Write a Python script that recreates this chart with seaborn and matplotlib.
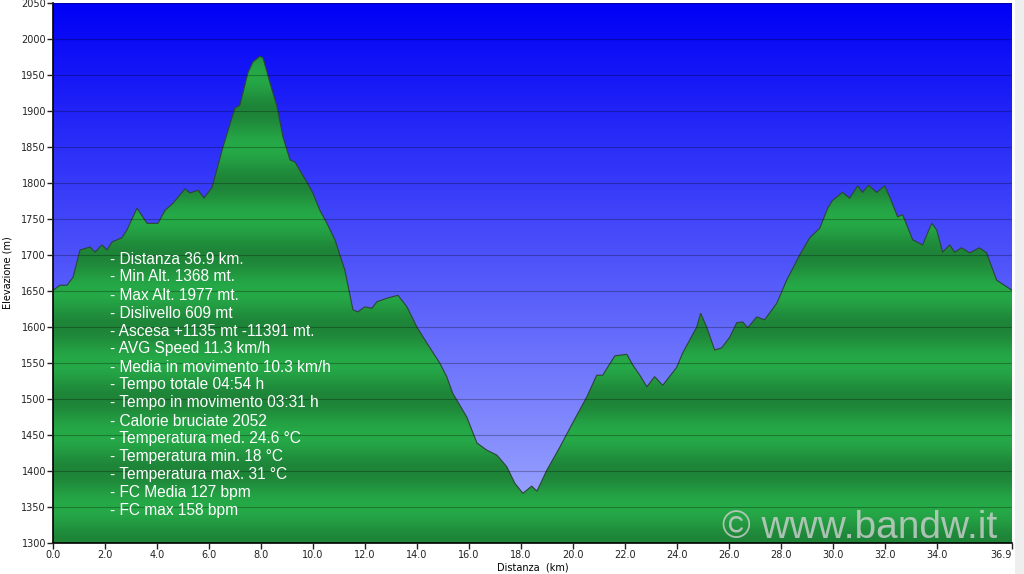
import numpy as np
import seaborn as sns
import matplotlib.pyplot as plt
from matplotlib.patches import Rectangle

# elevation profile
distance_km = [0.00, 0.27, 0.54, 0.77, 1.04, 1.42, 1.62, 1.88, 2.08, 2.27, 2.65, 2.85,
               3.23, 3.62, 4.04, 4.31, 4.62, 5.08, 5.27, 5.58, 5.81, 6.12, 6.54, 7.00,
               7.19, 7.50, 7.69, 7.96, 8.08, 8.35, 8.62, 8.85, 9.12, 9.31, 9.77, 10.00,
               10.27, 10.54, 10.85, 11.23, 11.54, 11.73, 12.00, 12.27, 12.46, 12.85, 13.27,
               13.62, 14.00, 14.38, 14.88, 15.15, 15.38, 15.92, 16.31, 16.69, 17.08, 17.46,
               17.77, 18.08, 18.42, 18.62, 19.00, 19.50, 20.00, 20.54, 20.92, 21.15, 21.62,
               22.08, 22.31, 22.58, 22.85, 23.15, 23.46, 24.00, 24.23, 24.50, 24.77, 24.92,
               25.15, 25.46, 25.73, 26.04, 26.31, 26.54, 26.73, 27.08, 27.38, 27.85, 28.23,
               28.73, 29.12, 29.50, 29.81, 30.00, 30.38, 30.65, 30.96, 31.15, 31.38, 31.69,
               32.00, 32.19, 32.50, 32.69, 33.08, 33.46, 33.81, 34.00, 34.23, 34.50, 34.69,
               34.96, 35.27, 35.65, 35.92, 36.31, 36.69, 36.90]
elevation_m = [1651, 1658, 1658, 1669, 1707, 1711, 1704, 1714, 1707, 1718, 1724, 1735,
               1765, 1744, 1744, 1762, 1772, 1792, 1786, 1790, 1779, 1794, 1850, 1904,
               1908, 1953, 1968, 1976, 1974, 1939, 1906, 1864, 1832, 1829, 1801, 1786,
               1762, 1744, 1721, 1679, 1624, 1621, 1628, 1626, 1635, 1640, 1644,
               1628, 1600, 1578, 1550, 1531, 1508, 1475, 1439, 1429, 1422, 1406,
               1383, 1369, 1379, 1372, 1401, 1433, 1467, 1503, 1533, 1533, 1560,
               1562, 1547, 1533, 1517, 1531, 1519, 1544, 1564, 1582, 1600, 1619,
               1600, 1568, 1571, 1586, 1606, 1607, 1599, 1614, 1610, 1633, 1665,
               1700, 1724, 1737, 1765, 1776, 1787, 1779, 1796, 1787, 1797, 1787,
               1796, 1781, 1753, 1756, 1721, 1714, 1744, 1735, 1704, 1714, 1704,
               1710, 1703, 1710, 1703, 1665, 1656, 1651]

x_ticks = [0, 2, 4, 6, 8, 10, 12, 14, 16, 18, 20, 22, 24, 26, 28, 30, 32, 34, 36.9]
y_ticks = list(range(1300, 2051, 50))

stats_lines = [
    "- Distanza 36.9 km.",
    "- Min Alt. 1368 mt.",
    "- Max Alt. 1977 mt.",
    "- Dislivello 609 mt",
    "- Ascesa +1135 mt -11391 mt.",
    "- AVG Speed 11.3 km/h",
    "- Media in movimento 10.3 km/h",
    "- Tempo totale 04:54 h",
    "- Tempo in movimento 03:31 h",
    "- Calorie bruciate 2052",
    "- Temperatura med. 24.6 °C",
    "- Temperatura min. 18 °C",
    "- Temperatura max. 31 °C",
    "- FC Media 127 bpm",
    "- FC max 158 bpm",
]

x_min, x_max = 0, 36.9
y_min, y_max = 1300, 2050

fig = plt.figure(figsize=(10.24, 5.74), dpi=100)
fig.patches.append(Rectangle((1015 / 1024, 0), 9 / 1024, 1, transform=fig.transFigure,
                             facecolor='#eeeeee', edgecolor='none', zorder=-5))
ax = fig.add_axes([53 / 1024, 1 - 543 / 574, 959 / 1024, 540 / 574])

# sky gradient: deep blue at top to pale lavender at bottom
rows = np.linspace(0, 1, 400)[:, None]
top = np.array([0, 0, 245]) / 255
bottom = np.array([165, 175, 255]) / 255
sky = (bottom + (top - bottom) * rows)[:, None, :] * np.ones((1, 2, 1))
ax.imshow(sky, extent=[x_min, x_max, y_min, y_max], origin='lower', aspect='auto', zorder=0)

# green fill with soft horizontal banding every 100 m
yy = np.linspace(y_min, y_max, 1500)
t = 0.5 + 0.5 * np.cos(2 * np.pi * (yy - 1350) / 100)
dark = np.array([30, 132, 56]) / 255
light = np.array([38, 170, 72]) / 255
band = (dark + (light - dark) * t[:, None])[:, None, :] * np.ones((1, 2, 1))
green = ax.imshow(band, extent=[x_min, x_max, y_min, y_max], origin='lower', aspect='auto', zorder=1)
area = ax.fill_between(distance_km, elevation_m, y_min, facecolor='none', edgecolor='none')
green.set_clip_path(area.get_paths()[0], transform=ax.transData)

sns.lineplot(x=distance_km, y=elevation_m, ax=ax, color='#2d4535', lw=0.8, zorder=2)

ax.set_xlim(x_min, x_max)
ax.set_ylim(y_min, y_max)
ax.set_xticks(x_ticks)
ax.set_xticklabels([f"{v:.1f}" for v in x_ticks])
ax.get_xticklabels()[-1].set_ha('right')
ax.set_yticks(y_ticks)
ax.tick_params(labelsize=7, colors='#222222', length=4, width=1, pad=1)
ax.set_axisbelow(False)
ax.grid(axis='y', color='black', alpha=0.28, lw=0.8)
ax.spines['top'].set_visible(False)
ax.spines['right'].set_visible(False)
ax.spines['left'].set_linewidth(1.2)
ax.spines['bottom'].set_linewidth(1.2)
ax.set_xlabel("Distanza  (km)", fontsize=7, labelpad=2)
ax.set_ylabel("Elevazione (m)", fontsize=7, labelpad=6)

for i, line in enumerate(stats_lines):
    fig.text(110 / 1024, 1 - (259 + 18 * i) / 574, line, color='white',
             fontsize=11.2, family='Liberation Sans', va='center', ha='left')

# watermark
fig.text(722 / 1024, 1 - 538 / 574, "© www.bandw.it", color='#d0d0d0', alpha=0.8,
         fontsize=28, family='Liberation Sans', va='baseline', ha='left')

fig.savefig('out.png', dpi=100)
